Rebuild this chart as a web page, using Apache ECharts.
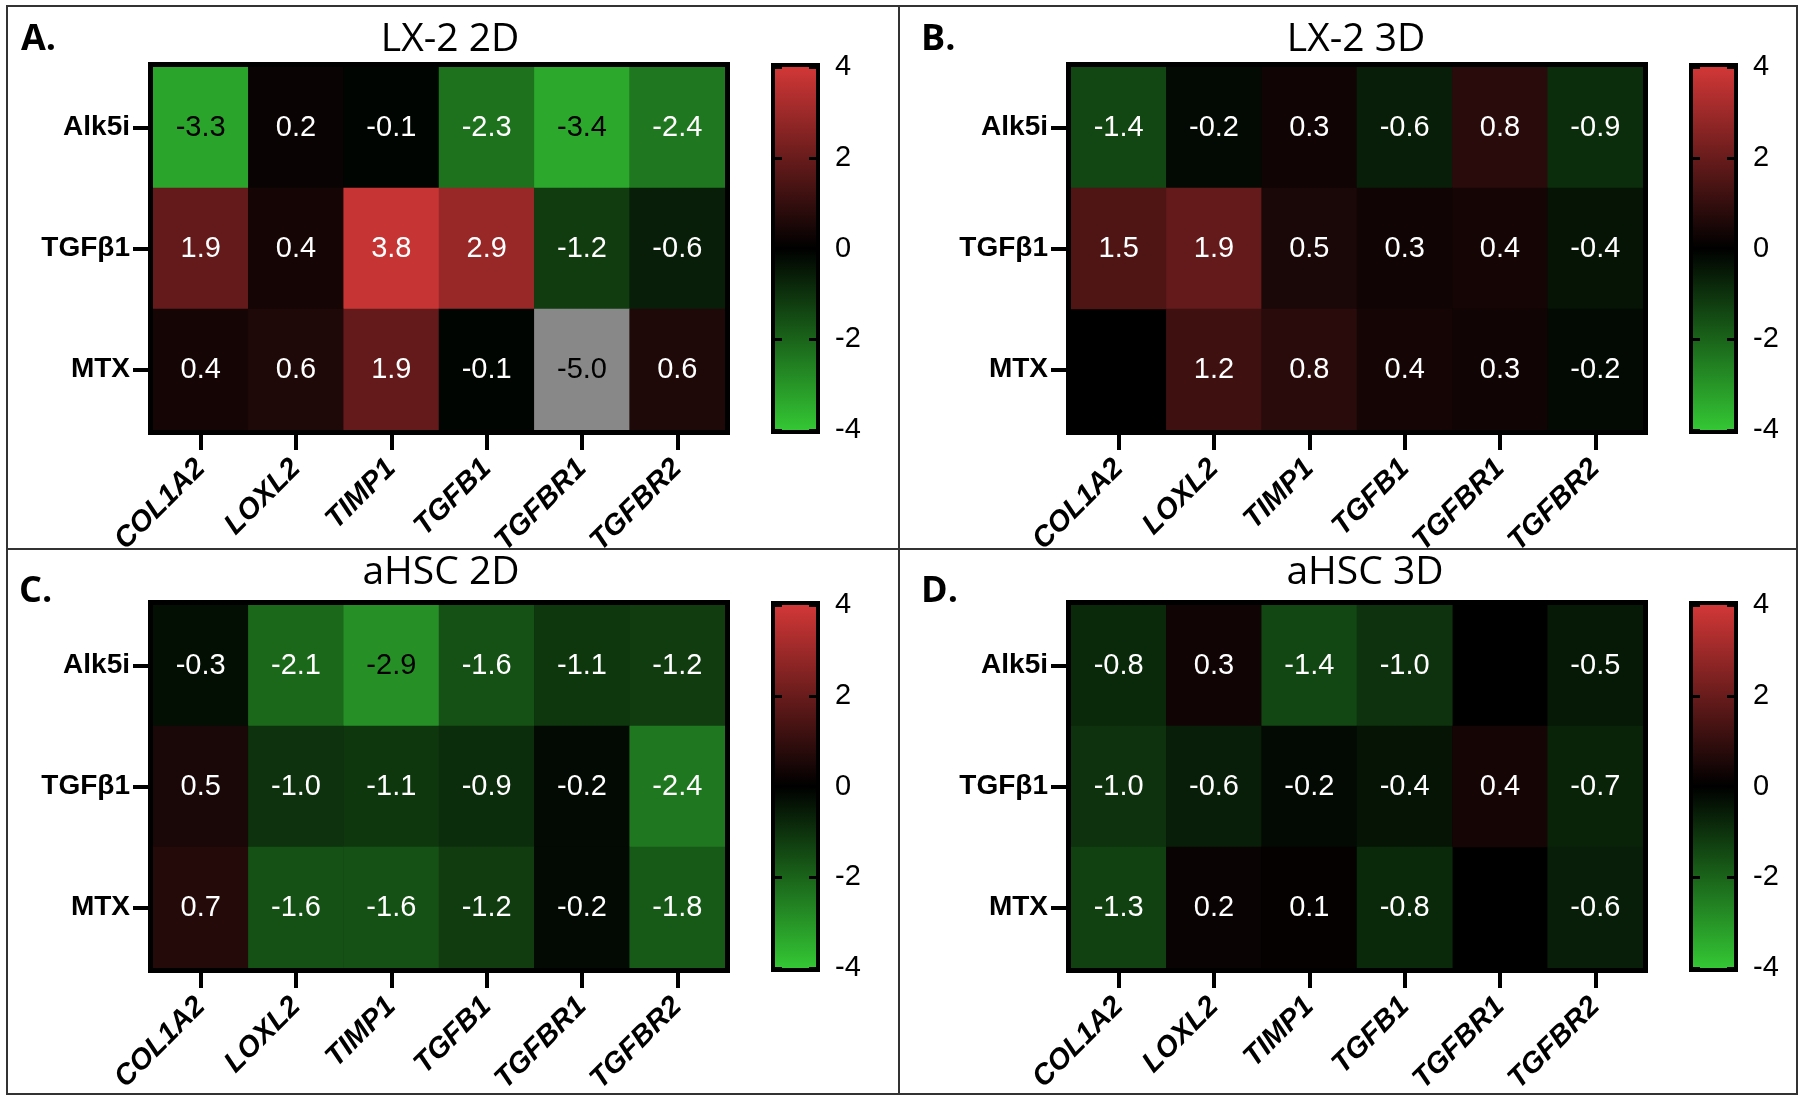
<!DOCTYPE html>
<html>
<head>
<meta charset="utf-8">
<script src="https://cdn.jsdelivr.net/npm/echarts@6/dist/echarts.min.js"></script>
<style>
  html, body { margin: 0; background: #fff; }
  #chart { width: 1800px; height: 1100px; }
</style>
</head>
<body>
<div id="chart"></div>
<script>
// Data
var genes = ['COL1A2', 'LOXL2', 'TIMP1', 'TGFB1', 'TGFBR1', 'TGFBR2'];
var treatments = ['Alk5i', 'TGFβ1', 'MTX'];

// one row per treatment, null = no value (cell left black)
var lx2_2d = [
    [-3.3, 0.2, -0.1, -2.3, -3.4, -2.4],
    [1.9, 0.4, 3.8, 2.9, -1.2, -0.6],
    [0.4, 0.6, 1.9, -0.1, -5.0, 0.6]
];
var lx2_3d = [
    [-1.4, -0.2, 0.3, -0.6, 0.8, -0.9],
    [1.5, 1.9, 0.5, 0.3, 0.4, -0.4],
    [null, 1.2, 0.8, 0.4, 0.3, -0.2]
];
var ahsc_2d = [
    [-0.3, -2.1, -2.9, -1.6, -1.1, -1.2],
    [0.5, -1.0, -1.1, -0.9, -0.2, -2.4],
    [0.7, -1.6, -1.6, -1.2, -0.2, -1.8]
];
var ahsc_3d = [
    [-0.8, 0.3, -1.4, -1.0, null, -0.5],
    [-1.0, -0.6, -0.2, -0.4, 0.4, -0.7],
    [-1.3, 0.2, 0.1, -0.8, null, -0.6]
];
var titles = ['LX-2 2D', 'LX-2 3D', 'aHSC 2D', 'aHSC 3D'];
var letters = ['A.', 'B.', 'C.', 'D.'];
var scaleMin = -4, scaleMax = 4, scaleStep = 2;

var panelData = [lx2_2d, lx2_3d, ahsc_2d, ahsc_3d];

// Layout (pixels)
var panels = [
    {left: 153, top: 67, titleX: 450, titleY: 40, letterX: 21, letterY: 40},
    {left: 1071, top: 67, titleX: 1356, titleY: 40, letterX: 921, letterY: 40},
    {left: 153, top: 605, titleX: 441, titleY: 573, letterX: 19, letterY: 592},
    {left: 1071, top: 605, titleX: 1365, titleY: 573, letterX: 921, letterY: 592}
];
var cellW = 572, cellH = 363, barGap = 50, barW = 41;

var GREEN = '#34c734', RED = '#d23737';
var FONT = '"Liberation Sans", Arial, sans-serif';

function cells(rows) {
    var out = [];
    rows.forEach(function (row, r) {
        row.forEach(function (v, c) {
            if (v === null) return;
            out.push({value: [c, r, v], label: {color: v < -2.5 ? '#000' : '#fff'}});
        });
    });
    return out;
}

var grid = [], xAxis = [], yAxis = [], series = [], graphic = [];

panels.forEach(function (p, i) {
    // heatmap grid
    grid.push({
        left: p.left, top: p.top, width: cellW, height: cellH,
        show: true, backgroundColor: '#000', borderWidth: 0
    });
    xAxis.push({
        type: 'category', gridIndex: i, data: genes, position: 'bottom',
        axisLine: {show: true, lineStyle: {color: '#000', width: 2}},
        axisTick: {show: true, alignWithLabel: true, length: 20, lineStyle: {color: '#000', width: 4}},
        axisLabel: {
            interval: 0, rotate: 45, margin: 34, color: '#000',
            fontFamily: FONT, fontSize: 29, fontWeight: 'bold', fontStyle: 'italic'
        },
        splitLine: {show: false}
    });
    yAxis.push({
        type: 'category', gridIndex: i, data: treatments, inverse: true,
        axisLine: {show: true, lineStyle: {color: '#000', width: 2}},
        axisTick: {show: true, alignWithLabel: true, length: 20, lineStyle: {color: '#000', width: 4}},
        axisLabel: {margin: 23, color: '#000', fontFamily: FONT, fontSize: 28, fontWeight: 'bold'},
        splitLine: {show: false}
    });
    series.push({
        type: 'heatmap', xAxisIndex: i, yAxisIndex: i,
        data: cells(panelData[i]),
        label: {
            show: true, fontFamily: FONT, fontSize: 29,
            formatter: function (d) { return d.value[2].toFixed(1); }
        },
        emphasis: {disabled: true}
    });

    // frame round the heatmap
    graphic.push({
        type: 'rect', z: 100, silent: true,
        shape: {x: p.left - 2.5, y: p.top - 2.5, width: cellW + 5, height: cellH + 5},
        style: {fill: 'none', stroke: '#000', lineWidth: 5}
    });
    graphic.push({
        type: 'text', z: 100, x: p.titleX, y: p.titleY,
        style: {
            text: titles[i], fill: '#000', font: '39px "Open Sans", sans-serif',
            textAlign: 'center', textVerticalAlign: 'middle', align: 'center', verticalAlign: 'middle'
        }
    });
    graphic.push({
        type: 'text', z: 100, x: p.letterX, y: p.letterY,
        style: {
            text: letters[i], fill: '#000', font: 'bold 36px "Open Sans", sans-serif',
            textAlign: 'left', textVerticalAlign: 'middle', align: 'left', verticalAlign: 'middle'
        }
    });
});

// colour bars
panels.forEach(function (p, i) {
    var g = 4 + i;
    var bx = p.left + cellW + barGap;
    grid.push({
        left: bx, top: p.top, width: barW, height: cellH,
        show: true, borderWidth: 0,
        backgroundColor: {
            type: 'linear', x: 0, y: 0, x2: 0, y2: 1,
            colorStops: [{offset: 0, color: RED}, {offset: 0.5, color: '#000'}, {offset: 1, color: GREEN}]
        }
    });
    xAxis.push({type: 'value', gridIndex: g, show: false, min: 0, max: 1});
    ['left', 'right'].forEach(function (side) {
        yAxis.push({
            type: 'value', gridIndex: g, position: side,
            min: scaleMin, max: scaleMax, interval: scaleStep,
            axisLine: {show: false},
            axisTick: {show: true, inside: true, length: 7, lineStyle: {color: '#000', width: 3}},
            axisLabel: {show: side === 'right', margin: 19, color: '#000', fontFamily: FONT, fontSize: 29},
            splitLine: {show: false}
        });
    });
    graphic.push({
        type: 'rect', z: 100, silent: true,
        shape: {x: bx - 2, y: p.top - 2, width: barW + 4, height: cellH + 4},
        style: {fill: 'none', stroke: '#000', lineWidth: 4}
    });
});

// figure border and dividers
graphic.push({
    type: 'rect', z: 100, silent: true,
    shape: {x: 7, y: 6, width: 1790, height: 1088},
    style: {fill: 'none', stroke: '#333', lineWidth: 2}
});
graphic.push({
    type: 'line', z: 100, silent: true,
    shape: {x1: 899, y1: 6, x2: 899, y2: 1094},
    style: {stroke: '#333', lineWidth: 2}
});
graphic.push({
    type: 'line', z: 100, silent: true,
    shape: {x1: 7, y1: 549, x2: 1797, y2: 549},
    style: {stroke: '#333', lineWidth: 2}
});

var chart = echarts.init(document.getElementById('chart'));
chart.setOption({
    animation: false,
    backgroundColor: '#fff',
    grid: grid,
    xAxis: xAxis,
    yAxis: yAxis,
    visualMap: {
        type: 'continuous', show: false,
        // slightly wider extent so that values past +-4 fall out of range (grey)
        min: scaleMin - 0.001, max: scaleMax + 0.001, range: [scaleMin, scaleMax],
        seriesIndex: [0, 1, 2, 3], dimension: 2,
        inRange: {color: [GREEN, '#000', RED]},
        outOfRange: {color: '#888888'}
    },
    series: series,
    graphic: graphic
});
</script>
</body>
</html>
